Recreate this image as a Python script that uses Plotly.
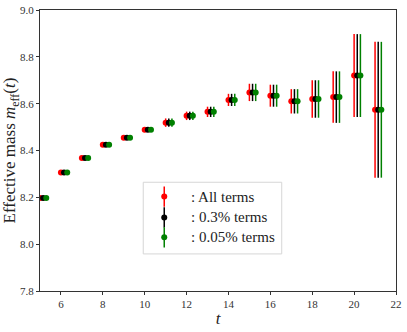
import plotly.graph_objects as go

# Effective mass per time slice
t_vals = list(range(5, 22))
m_eff = [8.197, 8.306, 8.368, 8.425, 8.454, 8.489, 8.519, 8.548, 8.565,
         8.616, 8.648, 8.634, 8.610, 8.620, 8.628, 8.720, 8.574]
m_err = [0.004, 0.005, 0.005, 0.006, 0.007, 0.008, 0.018, 0.018, 0.022,
         0.026, 0.037, 0.047, 0.052, 0.080, 0.110, 0.177, 0.290]

series_names = [": All terms", ": 0.3% terms", ": 0.05% terms"]
series_shift = [0.0, 0.15, 0.3]
series_colors = ["#ff0000", "#000000", "#008000"]

FONT = "Liberation Serif"

fig = go.Figure()

for name, shift, color in zip(series_names, series_shift, series_colors):
    fig.add_trace(go.Scatter(
        x=[t + shift for t in t_vals],
        y=m_eff,
        mode="markers",
        name=name,
        showlegend=False,
        marker=dict(color=color, size=6),
        error_y=dict(type="data", array=m_err, color=color,
                     thickness=1.5, width=0),
    ))

# hand-made legend (plotly legends don't show error bars)
leg_box = dict(x0=0.290, x1=0.679, y0=0.132, y1=0.387)
leg_rows = [0.336, 0.262, 0.191]
leg_icon_x = 0.349
leg_text_x = 0.418

fig.add_shape(type="rect", xref="x2", yref="y2", layer="below",
              line=dict(color="#d6d6d6", width=1), fillcolor="white",
              **leg_box)

for name, color, row in zip(series_names, series_colors, leg_rows):
    fig.add_trace(go.Scatter(
        x=[leg_icon_x], y=[row], xaxis="x2", yaxis="y2",
        mode="markers", showlegend=False, hoverinfo="skip",
        marker=dict(color=color, size=6),
        error_y=dict(type="constant", value=0.036, color=color,
                     thickness=1.5, width=0),
    ))
    fig.add_annotation(x=leg_text_x, y=row, xref="x2", yref="y2",
                       text=name, showarrow=False, xanchor="left",
                       yanchor="middle",
                       font=dict(family=FONT, size=15, color="#222222"))

axis_common = dict(
    showline=True, linecolor="#333333", linewidth=1.2, mirror=True,
    ticks="outside", ticklen=3, tickcolor="#333333",
    showgrid=False, zeroline=False, automargin=False,
    ticklabeloverflow="allow",
    tickfont=dict(family=FONT, size=11, color="#333333"),
)

fig.update_layout(
    width=407, height=332,
    margin=dict(l=40, r=11, t=10, b=41),
    plot_bgcolor="white", paper_bgcolor="white",
    font=dict(family=FONT, color="#222222"),
    xaxis=dict(range=[5, 22], tickvals=list(range(6, 23, 2)),
               title=dict(text="<i>t</i>", font=dict(size=17), standoff=2),
               **axis_common),
    yaxis=dict(range=[7.8, 9.0], tickvals=[7.8, 8.0, 8.2, 8.4, 8.6, 8.8, 9.0],
               tickformat=".1f",
               title=dict(text="Effective mass <i>m</i><sub>eff</sub>(<i>t</i>)",
                          font=dict(size=17), standoff=2),
               **axis_common),
    xaxis2=dict(range=[0, 1], overlaying="x", visible=False, fixedrange=True),
    yaxis2=dict(range=[0, 1], overlaying="y", visible=False, fixedrange=True),
    showlegend=False,
)

# drop the browser's default 8px body margin so the figure sits at (0, 0)
fig.write_html("out.html", config={"displayModeBar": False},
               post_script="document.body.style.margin = '0';")
